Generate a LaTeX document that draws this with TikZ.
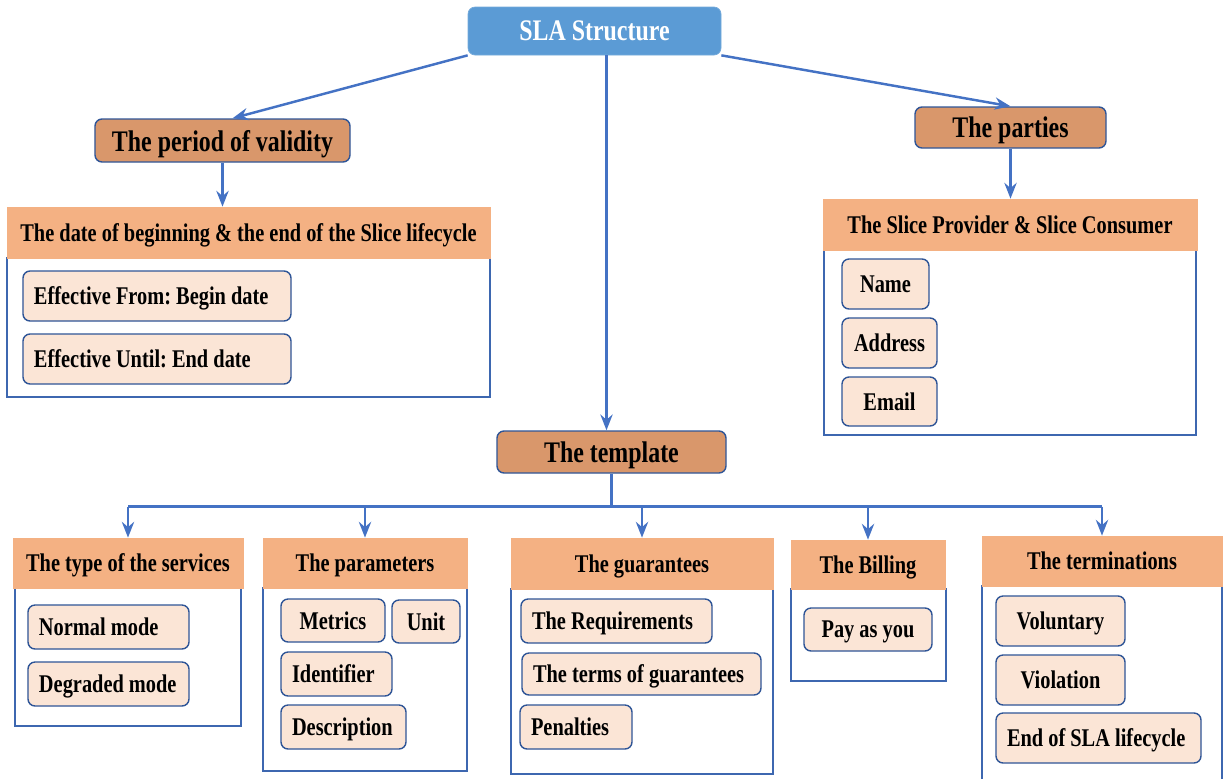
\documentclass[tikz,border=0pt]{standalone}
\usepackage{fontspec}
\setmainfont{Liberation Serif}[FakeStretch=0.8]
\usetikzlibrary{arrows.meta,calc}

\definecolor{slablue}{HTML}{5B9BD5}
\definecolor{topbrown}{HTML}{D9976B}
\definecolor{hdrorange}{HTML}{F4B183}
\definecolor{leafpeach}{HTML}{FBE5D6}
\definecolor{linkblue}{HTML}{4472C4}
\definecolor{edgeblue}{HTML}{2F5597}

% box given by its corners in pixel units
\newcommand{\blk}[7]{%
  \pgfmathsetmacro{\blkw}{(#5-#3)*0.02}%
  \pgfmathsetmacro{\blkh}{(#6-#4)*0.02}%
  \pgfmathsetmacro{\blktw}{(#5-#3)*0.02-0.44}%
  \node[#2, inner sep=0pt, text depth=0pt, minimum width=\blkw cm, minimum height=\blkh cm] (#1) at ({(#3+#5)/2},{(#4+#6)/2}) {#7};}

\tikzset{
  root/.style={fill=slablue, draw=slablue!85!white, rounded corners=4pt, text=white, font=\fontsize{17}{19}\selectfont\bfseries},
  topic/.style={fill=topbrown, draw=edgeblue, line width=0.8pt, rounded corners=4pt, font=\fontsize{17}{19}\selectfont\bfseries},
  header/.style={fill=hdrorange, draw=hdrorange, font=\fontsize{14.5}{17}\selectfont\bfseries},
  panel/.style={draw=linkblue!90!black, line width=0.8pt, fill=white},
  leaf/.style={fill=leafpeach, draw=edgeblue, line width=0.8pt, rounded corners=4pt, font=\fontsize{14.5}{17}\selectfont\bfseries},
  leafl/.style={leaf, text width=\blktw cm, align=flush left},
  trunk/.style={draw=linkblue, line width=1.4pt},
  link/.style={trunk, -{Stealth[length=9pt,width=7pt,inset=3pt]}},
}

\begin{document}
\frenchspacing
\begin{tikzpicture}[x=0.02cm, y=-0.02cm]
  \useasboundingbox (0,0) rectangle (1224,778);

  % top level
  \blk{sla}{root}{468}{7}{721}{55}{SLA Structure}
  \blk{validity}{topic}{95}{119}{350}{162}{The period of validity}
  \blk{parties}{topic}{915}{107}{1106}{148}{The parties}
  \blk{template}{topic}{497}{431}{726}{473}{The template}

  % period of validity
  \blk{datebody}{panel}{7}{258}{490}{397}{}
  \blk{datehdr}{header}{7}{207}{490}{258}{The date of beginning \& the end of the Slice lifecycle}
  \blk{from}{leafl}{23}{271}{291}{321}{Effective From: Begin date}
  \blk{until}{leafl}{23}{334}{291}{384}{Effective Until: End date}

  % parties
  \blk{provbody}{panel}{824}{250}{1196}{435}{}
  \blk{provhdr}{header}{823}{199}{1197}{250}{The Slice Provider \& Slice Consumer}
  \blk{name}{leaf}{842}{259}{929}{309}{Name}
  \blk{address}{leaf}{842}{318}{937}{368}{Address}
  \blk{email}{leaf}{842}{377}{937}{426}{Email}

  % template children
  \blk{typebody}{panel}{15}{588}{241}{726}{}
  \blk{typehdr}{header}{13}{538}{243}{588}{The type of the services}
  \blk{normal}{leafl}{28}{605}{189}{649}{Normal mode}
  \blk{degraded}{leafl}{28}{662}{189}{706}{Degraded mode}

  \blk{parbody}{panel}{263}{588}{467}{771}{}
  \blk{parhdr}{header}{263}{538}{467}{588}{The parameters}
  \blk{metrics}{leaf}{281}{599}{385}{642}{Metrics}
  \blk{unit}{leaf}{392}{600}{460}{643}{Unit}
  \blk{identifier}{leafl}{281}{652}{392}{696}{Identifier}
  \blk{description}{leafl}{281}{705}{406}{749}{Description}

  \blk{guabody}{panel}{511}{589}{773}{774}{}
  \blk{guahdr}{header}{511}{538}{773}{589}{The guarantees}
  \blk{requirements}{leafl}{521}{599}{712}{643}{The Requirements}
  \blk{terms}{leafl}{522}{653}{761}{695}{The terms of guarantees}
  \blk{penalties}{leafl}{520}{705}{632}{749}{Penalties}

  \blk{billbody}{panel}{791}{589}{946}{681}{}
  \blk{billhdr}{header}{791}{540}{945}{589}{The Billing}
  \blk{pay}{leaf}{804}{608}{932}{651}{Pay as you}

  \blk{termbody}{panel}{982}{586}{1222}{784}{}
  \blk{termhdr}{header}{982}{536}{1222}{586}{The terminations}
  \blk{voluntary}{leaf}{996}{596}{1125}{646}{Voluntary}
  \blk{violation}{leaf}{996}{655}{1125}{705}{Violation}
  \blk{endsla}{leafl}{996}{713}{1201}{763}{End of SLA lifecycle}

  % connectors
  \draw[link] (sla.south west) -- ([xshift=0.2cm]validity.north);
  \draw[link] (validity.south) -- (validity.south |- datehdr.north);
  \draw[link] (sla.south east) -- (parties.north);
  \draw[link] (parties.south) -- (parties.south |- provhdr.north);
  \coordinate (spine) at ([xshift=-0.1cm]template.north);
  \draw[link] (spine |- sla.south) -- (spine);

  \coordinate (bus) at ($(template.south)+(0,33)$);
  \draw[trunk] (template.south) -- (bus);
  \draw[trunk] (bus -| typehdr.north) -- (bus -| termhdr.north);
  \foreach \h in {typehdr,parhdr,guahdr,billhdr,termhdr}
    \draw[link] (bus -| \h.north) -- (\h.north);

\end{tikzpicture}
\end{document}
